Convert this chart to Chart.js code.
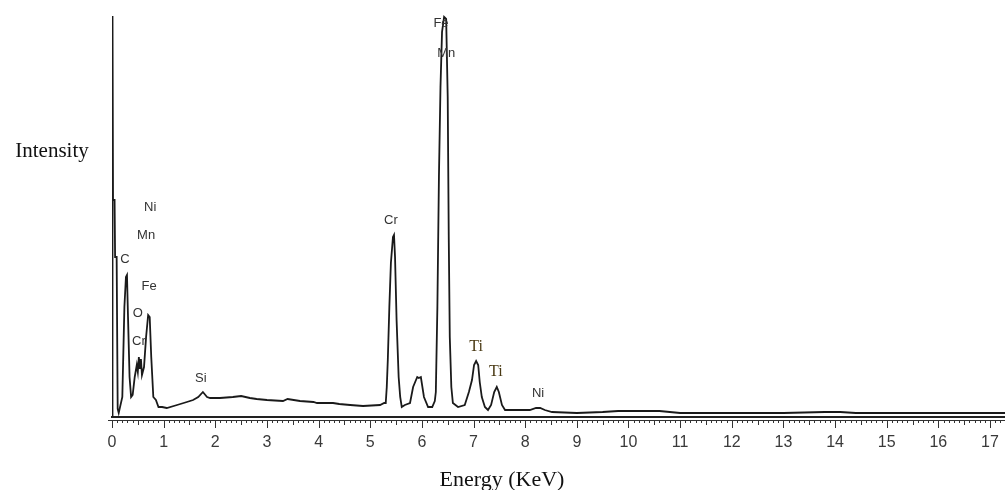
<!DOCTYPE html>
<html>
<head>
<meta charset="utf-8">
<script src="https://cdn.jsdelivr.net/npm/chart.js@4.4.1/dist/chart.umd.min.js"></script>
<style>
  body { margin: 0; background: #fff; }
  #wrap { width: 1005px; height: 490px; position: relative; }
</style>
</head>
<body>
<div id="wrap"><canvas id="edsChart"></canvas></div>
<script>
// spectrum (energy in KeV, intensity in arbitrary counts)
const energy = [
  0.00, 0.01, 0.02, 0.05, 0.06, 0.09, 0.11, 0.13,
  0.20, 0.24, 0.27, 0.29, 0.31, 0.34, 0.37, 0.40, 0.44, 0.48, 0.50, 0.52, 0.54, 0.56, 0.58,
  0.62, 0.66, 0.70, 0.73, 0.76, 0.80, 0.85, 0.90, 0.97,
  1.06, 1.26, 1.45, 1.57, 1.67, 1.76, 1.84, 1.90, 2.09, 2.34, 2.50, 2.67, 2.80, 3.00,
  3.31, 3.40, 3.64, 3.90, 3.97, 4.28, 4.40, 4.61, 4.86, 5.19, 5.27,
  5.30, 5.32, 5.34, 5.37, 5.40, 5.44, 5.46, 5.48, 5.51, 5.55, 5.58, 5.61, 5.67, 5.77,
  5.83, 5.91, 5.94, 5.98, 6.04, 6.12, 6.20, 6.25,
  6.27, 6.30, 6.33, 6.36, 6.39, 6.43, 6.47, 6.50, 6.52, 6.54, 6.57, 6.60,
  6.70, 6.83, 6.91, 6.97, 7.01, 7.05, 7.09, 7.12, 7.16, 7.22, 7.28,
  7.34, 7.40, 7.45, 7.49, 7.55, 7.61, 7.80, 8.09, 8.21, 8.29, 8.38, 8.52,
  9.00, 9.50, 9.80, 10.20, 10.60, 11.00, 12.00, 13.00, 13.80, 14.10, 14.40, 15.50, 17.29
];
const counts = [
  0, 401, 217, 217, 160, 160, 8, 4,
  20, 110, 140, 142, 100, 40, 20, 22, 40, 52, 45, 60, 48, 58, 42,
  50, 80, 102, 100, 60, 20, 17, 10, 10,
  9, 12, 15, 17, 20, 25, 20, 19, 19, 20, 21, 19, 18, 17,
  16, 18, 16, 15, 14, 14, 13, 12, 11, 12, 14,
  14, 30, 57, 110, 154, 180, 182, 160, 97, 40, 20, 10, 12, 14,
  30, 40, 39, 40, 20, 10, 10, 16,
  25, 110, 240, 330, 385, 400, 398, 320, 180, 80, 30, 14,
  10, 12, 25, 37, 52, 56, 52, 35, 20, 10, 7,
  12, 25, 30, 25, 12, 7, 7, 7, 9, 9, 7, 5,
  4, 5, 6, 6, 6, 4, 4, 4, 5, 5, 4, 4, 4
];
const xTicks = [0, 1, 2, 3, 4, 5, 6, 7, 8, 9, 10, 11, 12, 13, 14, 15, 16, 17];

// element labels next to the peaks: [text, energy, intensity]
const peakLabels = [
  ['Ni', 0.74, 210], ['Mn', 0.66, 182], ['C', 0.25, 158], ['Fe', 0.72, 131],
  ['O', 0.50, 104], ['Cr', 0.52, 76], ['Si', 1.72, 39], ['Cr', 5.40, 197],
  ['Fe', 6.37, 394], ['Mn', 6.47, 364], ['Ni', 8.25, 24]
];
const tiLabels = [['Ti', 7.05, 70], ['Ti', 7.43, 45]];

const edsDecor = {
  id: 'edsDecor',
  afterDraw(chart) {
    const ctx = chart.ctx;
    const xs = chart.scales.x, ys = chart.scales.y;
    const area = chart.chartArea;
    ctx.save();

    // ruler under the axis with minor ticks every 0.1 KeV
    const ry = area.bottom + 3;
    ctx.strokeStyle = '#333';
    ctx.lineWidth = 1;
    ctx.beginPath();
    ctx.moveTo(xs.getPixelForValue(0) - 4, ry + 0.5);
    ctx.lineTo(area.right, ry + 0.5);
    for (let i = 0; i <= 172; i++) {
      const px = Math.round(xs.getPixelForValue(i / 10)) + 0.5;
      const len = i % 10 === 0 ? 8 : (i % 5 === 0 ? 5 : 3);
      ctx.moveTo(px, ry);
      ctx.lineTo(px, ry + len);
    }
    ctx.stroke();

    // peak labels
    ctx.textAlign = 'center';
    ctx.textBaseline = 'middle';
    ctx.fillStyle = '#333';
    ctx.font = '13px "Liberation Sans", Arial, sans-serif';
    peakLabels.forEach(([t, e, v]) => {
      ctx.fillText(t, xs.getPixelForValue(e), ys.getPixelForValue(v));
    });
    ctx.fillStyle = '#4a3a14';
    ctx.font = '16px "Liberation Serif", "Times New Roman", serif';
    tiLabels.forEach(([t, e, v]) => {
      ctx.fillText(t, xs.getPixelForValue(e), ys.getPixelForValue(v));
    });

    // axis titles
    ctx.fillStyle = '#111';
    ctx.font = '21px "Liberation Serif", "Times New Roman", serif';
    ctx.fillText('Intensity', 52, 151);
    ctx.font = '22px "Liberation Serif", "Times New Roman", serif';
    ctx.fillText('Energy (KeV)', 502, 480);
    ctx.restore();
  }
};

new Chart(document.getElementById('edsChart'), {
  type: 'line',
  data: {
    datasets: [{
      data: energy.map((e, i) => ({ x: e, y: counts[i] })),
      borderColor: '#1a1a1a',
      borderWidth: 1.8,
      pointRadius: 0,
      tension: 0,
      fill: false
    }]
  },
  options: {
    responsive: true,
    maintainAspectRatio: false,
    animation: false,
    layout: { padding: { left: 112, top: 13, right: 0, bottom: 0 } },
    plugins: { legend: { display: false }, tooltip: { enabled: false } },
    scales: {
      x: {
        type: 'linear',
        min: 0,
        max: 17.29,
        afterFit: s => { s.height = 73; s.paddingLeft = 0; s.paddingRight = 0; },
        afterBuildTicks: s => { s.ticks = xTicks.map(v => ({ value: v })); },
        grid: { drawOnChartArea: false, drawTicks: false },
        border: { display: true, color: '#222', width: 2 },
        ticks: {
          color: '#3a3a3a',
          padding: 16,
          maxRotation: 0,
          autoSkip: false,
          font: { family: '"Liberation Sans", Arial, sans-serif', size: 16 }
        }
      },
      y: { display: false, min: 0, max: 404 }
    }
  },
  plugins: [edsDecor]
});
</script>
</body>
</html>
